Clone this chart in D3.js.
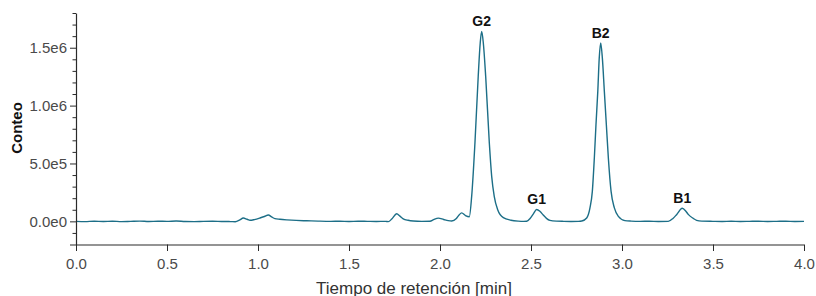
<!DOCTYPE html>
<html>
<head>
<meta charset="utf-8">
<script src="https://cdn.jsdelivr.net/npm/d3@7"></script>
<style>
  html, body { margin: 0; padding: 0; background: #fff; }
  svg { display: block; font-family: "Liberation Sans", Arial, sans-serif; }
</style>
</head>
<body>
<svg id="chart" width="816" height="296"></svg>
<script>
// ── Chromatogram values ──────────────────────────────────────────────────
const times = [
  0.00, 0.05, 0.10, 0.15, 0.20, 0.25, 0.30, 0.35, 0.40, 0.45,
  0.50, 0.55, 0.60, 0.65, 0.70, 0.75, 0.80, 0.85, 0.875, 0.90,
  0.919, 0.94, 0.956, 0.98, 1.011, 1.035, 1.057, 1.075, 1.093, 1.12,
  1.158, 1.21, 1.268, 1.33, 1.40, 1.45, 1.50, 1.55, 1.60, 1.65,
  1.70, 1.716, 1.735, 1.762, 1.78, 1.798, 1.825, 1.853, 1.90, 1.945,
  1.965, 1.991, 2.02, 2.045, 2.064, 2.09, 2.105, 2.119, 2.14, 2.161,
  2.174, 2.192, 2.210, 2.221, 2.229, 2.238, 2.251, 2.271, 2.284, 2.298,
  2.317, 2.348, 2.39, 2.43, 2.46, 2.476, 2.495, 2.513, 2.531, 2.55,
  2.567, 2.585, 2.604, 2.64, 2.68, 2.72, 2.76, 2.779, 2.806, 2.824,
  2.837, 2.848, 2.857, 2.867, 2.875, 2.883, 2.892, 2.903, 2.914, 2.925,
  2.940, 2.958, 2.980, 3.016, 3.05, 3.10, 3.15, 3.20, 3.254, 3.28,
  3.301, 3.331, 3.35, 3.364, 3.392, 3.41, 3.438, 3.50, 3.55, 3.60,
  3.65, 3.70, 3.75, 3.80, 3.85, 3.90, 3.95, 4.00
];
const counts = [
  0, -2e3, 1e3, -1e3, 1e3, -2e3, 0, 2e3, -1e3, 1e3,
  0, 3e3, -1e3, -2e3, 0, 1e3, -1e3, -2e3, -3e3, 1.2e4,
  2.9e4, 1.8e4, 9e3, 1.5e4, 2.9e4, 4.2e4, 5.5e4, 3.8e4, 2.3e4, 1.8e4,
  1.3e4, 8e3, 5e3, 2e3, 0, 1e3, -1e3, 1e3, 0, -1e3,
  0, -2e3, 2e4, 6.6e4, 4.5e4, 2.2e4, 9e3, 3e3, 0, 1e3,
  1.5e4, 2.8e4, 1.6e4, 6e3, 3e3, 2.5e4, 5.5e4, 7.3e4, 5e4, 4e4,
  2.16e5, 6.77e5, 1.253e6, 1.541e6, 1.641e6, 1.541e6, 1.253e6, 6.77e5, 3.89e5, 2.16e5,
  1.01e5, 3.2e4, 1.0e4, 2e3, 0, 1e3, 2.5e4, 6.5e4, 1.03e5, 8.5e4,
  5.5e4, 2.6e4, 9e3, 2e3, 0, -1e3, 0, 3e3, 2.9e4, 1.16e5,
  2.59e5, 5.48e5, 8.35e5, 1.123e6, 1.412e6, 1.541e6, 1.412e6, 1.123e6, 8.35e5, 5.48e5,
  2.59e5, 1.16e5, 4.3e4, 6e3, 2e3, 0, 1e3, -1e3, 0, 2.5e4,
  6e4, 1.13e5, 9e4, 6e4, 2.5e4, 9e3, 2e3, 0, -1e3, 1e3,
  -1e3, 0, 1e3, -1e3, 0, 1e3, -1e3, 0
];

// peak annotations
const peakNames = ['G2', 'G1', 'B2', 'B1'];
const peakTimes = [2.229, 2.531, 2.883, 3.331];
const peakCounts = [1.641e6, 1.03e5, 1.541e6, 1.13e5];

// axes
const xTicks = [0, 0.5, 1.0, 1.5, 2.0, 2.5, 3.0, 3.5, 4.0];
const yMajorTicks = [0, 5e5, 1e6, 1.5e6];
const yMinorTicks = [-1e5, 1e5, 2e5, 3e5, 4e5, 6e5, 7e5, 8e5, 9e5,
                     1.1e6, 1.2e6, 1.3e6, 1.4e6, 1.6e6, 1.7e6, 1.8e6];
const yLabels = ['0.0e0', '5.0e5', '1.0e6', '1.5e6'];

const LINE_COLOR = '#1c6e87';
const M = { top: 13, right: 12, bottom: 51.5, left: 76 };
const W = 816, H = 296;

const svg = d3.select('#chart');
const g = svg.append('g').attr('transform', `translate(${M.left},${M.top})`);
const iw = 804 - M.left;
const ih = H - M.top - M.bottom;

const x = d3.scaleLinear().domain([0, 4]).range([0, iw]);
const y = d3.scaleLinear().domain([-2e5, 1.8e6]).range([ih, 0]);

// ── Trace ─────────────────────────────────────────────────────────────────
const pts = times.map((t, i) => [t, counts[i]]);
const line = d3.line()
  .x(d => x(d[0]))
  .y(d => y(d[1]))
  .curve(d3.curveMonotoneX);

g.append('path')
  .datum(pts)
  .attr('fill', 'none')
  .attr('stroke', LINE_COLOR)
  .attr('stroke-width', 1.4)
  .attr('stroke-linejoin', 'round')
  .attr('d', line);

// ── Axes ──────────────────────────────────────────────────────────────────
const AX = '#2a2a2a';
const TXT = '#4a4a4a';

// minor y ticks
g.append('g')
  .call(d3.axisLeft(y).tickValues(yMinorTicks).tickSize(3.5).tickFormat('').tickSizeOuter(0))
  .call(a => a.select('.domain').remove())
  .call(a => a.selectAll('line').attr('stroke', AX));

// major y ticks + labels
g.append('g')
  .call(d3.axisLeft(y).tickValues(yMajorTicks).tickSize(6).tickPadding(3)
    .tickFormat((d, i) => yLabels[i]).tickSizeOuter(0))
  .call(a => a.select('.domain').attr('stroke', AX).attr('stroke-width', 1.2))
  .call(a => a.selectAll('line').attr('stroke', AX))
  .call(a => a.selectAll('text')
    .attr('fill', TXT).attr('font-size', 15)
    .attr('font-family', '"Liberation Sans", Arial, sans-serif'));

// x axis
g.append('g')
  .attr('transform', `translate(0,${ih})`)
  .call(d3.axisBottom(x).tickValues(xTicks).tickSize(6.5).tickPadding(7)
    .tickFormat(d3.format('.1f')).tickSizeOuter(0))
  .call(a => a.select('.domain').attr('stroke', AX).attr('stroke-width', 1.2)
    .attr('d', `M-6,0.5H${iw}`))
  .call(a => a.selectAll('line').attr('stroke', AX))
  .call(a => a.selectAll('text')
    .attr('fill', TXT).attr('font-size', 15)
    .attr('font-family', '"Liberation Sans", Arial, sans-serif'));

// axis titles
svg.append('text')
  .attr('x', 414)
  .attr('y', 293.5)
  .attr('text-anchor', 'middle')
  .attr('font-size', 17)
  .attr('fill', '#333')
  .text('Tiempo de retención [min]');

svg.append('text')
  .attr('transform', 'translate(22,128) rotate(-90)')
  .attr('text-anchor', 'middle')
  .attr('font-size', 15)
  .attr('font-weight', 'bold')
  .attr('fill', '#111')
  .text('Conteo');

// ── Peak labels ───────────────────────────────────────────────────────────
g.selectAll('text.peak')
  .data(peakNames)
  .join('text')
    .attr('class', 'peak')
    .attr('x', (d, i) => x(peakTimes[i]))
    .attr('y', (d, i) => y(peakCounts[i]) - 5)
    .attr('text-anchor', 'middle')
    .attr('font-size', 14)
    .attr('font-weight', 'bold')
    .attr('fill', '#111')
    .text(d => d);
</script>
</body>
</html>
